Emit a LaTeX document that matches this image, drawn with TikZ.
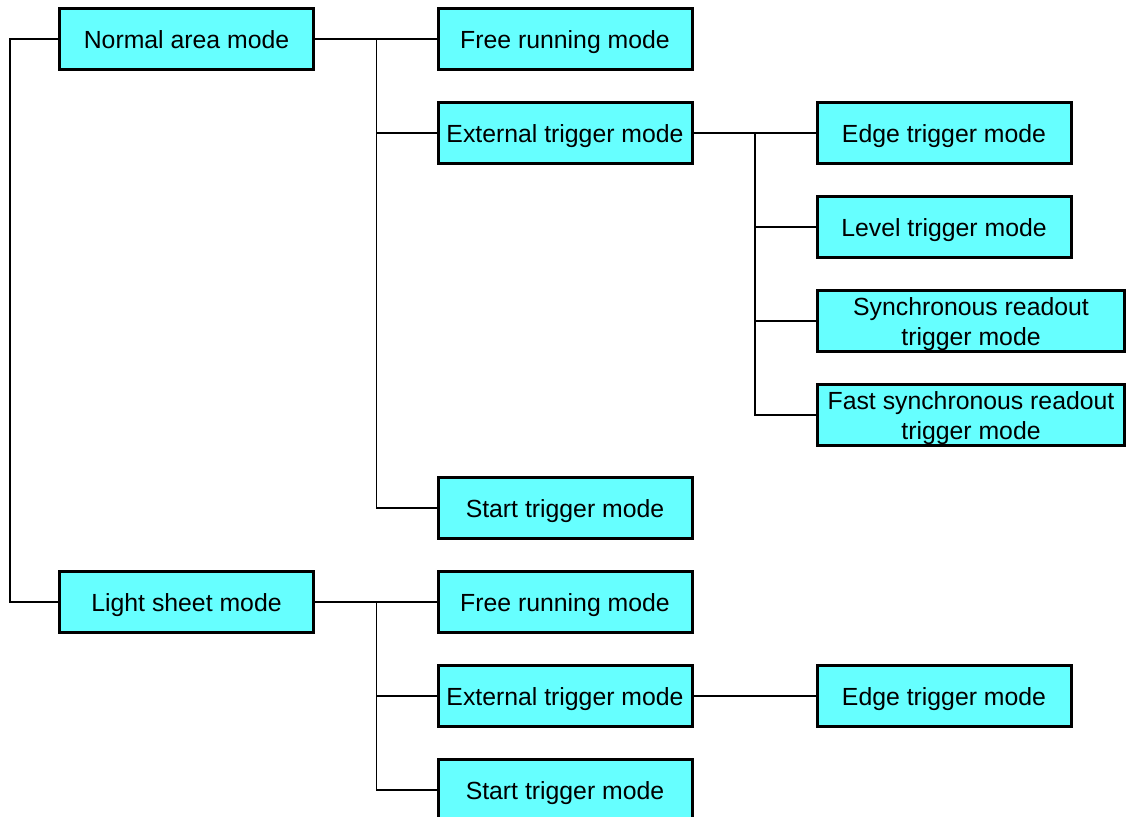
\documentclass[tikz,border=0pt]{standalone}
\usepackage{fontspec}
\setmainfont{Liberation Sans}
\definecolor{modecyan}{RGB}{102,255,255}

\begin{document}
\begin{tikzpicture}[x=1pt,y=-1pt]
		\tikzset{every node/.style={draw, line width=3pt, fill=modecyan, minimum width=254pt, minimum height=61pt, align=center, text height=24pt, text depth=5pt, font=\fontsize{24.8}{30}\selectfont},
		tworow/.style={minimum width=307pt, inner ysep=0pt, text height={}, text depth={}}}
\useasboundingbox (0,0) rectangle (1126,816);
\clip (0,0) rectangle (1126,816);
\node (n1) at (186.5,39) {Normal area mode};
\node (n2) at (186.5,602) {Light sheet mode};
\node (n3) at (565,39) {Free running mode};
\node (n4) at (565,133) {External trigger mode};
\node (n5) at (565,508) {Start trigger mode};
\node (n6) at (565,602) {Free running mode};
\node (n7) at (565,696) {External trigger mode};
\node (n8) at (565,790) {Start trigger mode};
\node (n9) at (944,133) {Edge trigger mode};
\node (n10) at (944,227) {Level trigger mode};
\node[tworow] (n11) at (971,321) {\rule{0pt}{24pt}Synchronous readout\\trigger mode};
\node[tworow] (n12) at (971,415) {\rule{0pt}{24pt}Fast synchronous readout\\trigger mode};
\node (n13) at (944,696) {Edge trigger mode};

\draw[line width=1.5pt] (n1.west) -- ++(-48,0) |- (n2.west);
\foreach \from/\to in {n1/n3,n1/n4,n1/n5,n2/n6,n2/n7,n2/n8,n4/n9,n4/n10,n4/n11,n4/n12,n7/n13}
{
	\draw[line width=1.5pt] (\from.east) -- ++(61.5,0) |- (\to.west);
}

		\end{tikzpicture}
\end{document}
